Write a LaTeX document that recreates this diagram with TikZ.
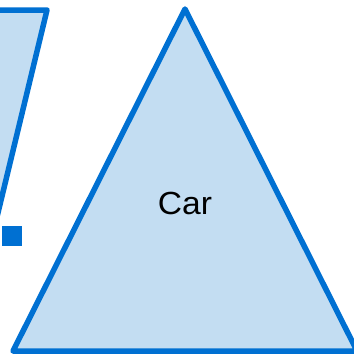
\documentclass[tikz,border=0pt]{standalone}
\usepackage{fontspec}
\setmainfont{Liberation Sans}
\definecolor{strokeblue}{RGB}{0,112,210}
\definecolor{fillblue}{RGB}{195,221,242}
\begin{document}
\begin{tikzpicture}[x=1pt,y=-1pt,
  shapeline/.style={draw=strokeblue,fill=fillblue,line width=5.5pt,line join=round},
  lbl/.style={font=\fontsize{32}{38}\selectfont,text=black,xscale=1.05}]
\useasboundingbox (0,0) rectangle (354,357);
\clip (0,0) rectangle (354,357);
% left parallelogram (mostly off-canvas)
\path[shapeline] (-120,10) -- (47,10) -- (-40,370) -- (-200,370) -- cycle;
% small square
\fill[strokeblue] (2,226) rectangle (22,246);
% triangle
\path[shapeline] (185,9) -- (357,351) -- (13,351) -- cycle;
\node[lbl] (car) at (185,203) {Car};
\end{tikzpicture}
\end{document}
